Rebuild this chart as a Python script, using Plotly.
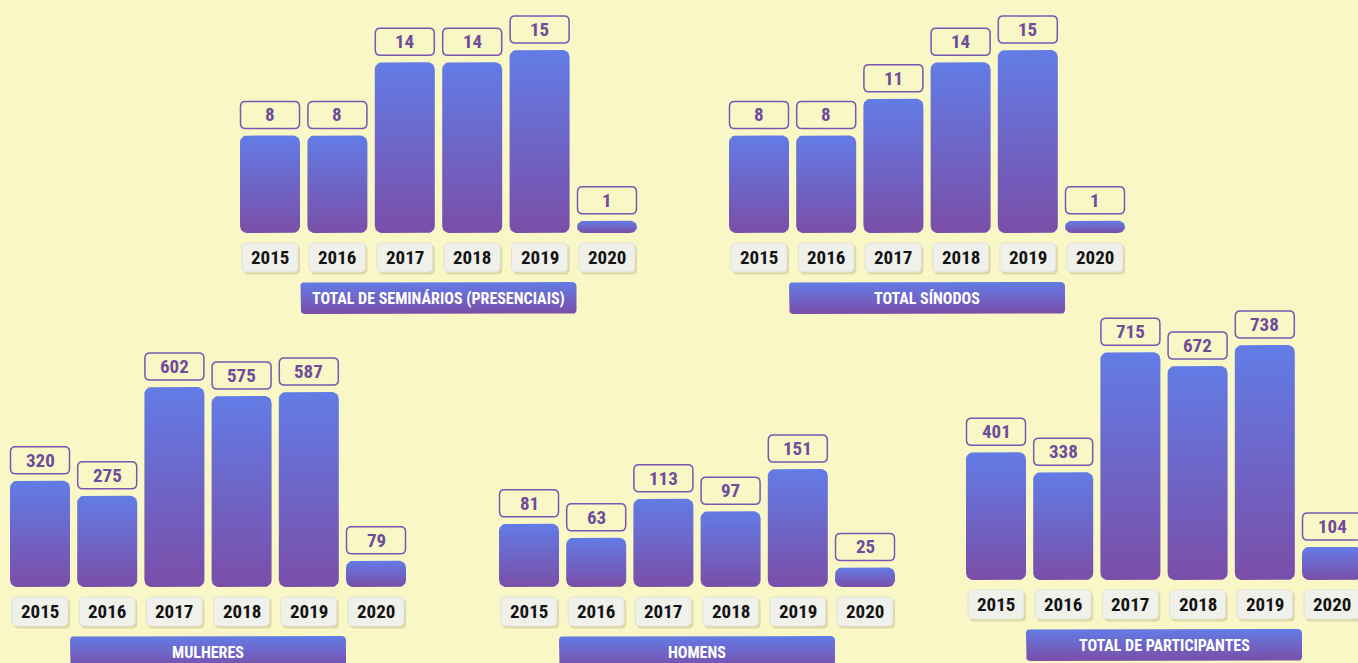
import numpy as np
import plotly.graph_objects as go

W, H = 1358, 663

# ---- data -------------------------------------------------------------
years = ["2015", "2016", "2017", "2018", "2019", "2020"]
seminarios = [8, 8, 14, 14, 15, 1]
sinodos = [8, 8, 11, 14, 15, 1]
mulheres = [320, 275, 602, 575, 587, 79]
homens = [81, 63, 113, 97, 151, 25]
participantes = [401, 338, 715, 672, 738, 104]

panel_titles = [
    "TOTAL DE SEMINÁRIOS (PRESENCIAIS)",
    "TOTAL SÍNODOS",
    "MULHERES",
    "HOMENS",
    "TOTAL DE PARTICIPANTES",
]
panel_values = [seminarios, sinodos, mulheres, homens, participantes]

# ---- layout of the five panels (pixels) --------------------------------
# c0: centre of first bar, pitch: bar spacing, zero: baseline,
# top: pixel height reached by the largest value, dom: vertical extent
panels = [
    dict(c0=270, pitch=67.4, zero=233, top=50, dom=(0, 322)),
    dict(c0=759, pitch=67.2, zero=233, top=50, dom=(0, 322)),
    dict(c0=40, pitch=67.2, zero=587, top=387, dom=(300, 663)),
    dict(c0=529, pitch=67.2, zero=587, top=469, dom=(300, 663)),
    dict(c0=996, pitch=67.2, zero=580, top=345, dom=(300, 663)),
]

BG = "#FAF7C6"
BLUE = "#627CE6"
PURPLE = "#7A4EA8"
BOX_LINE = "#7A55B2"
LABEL_TXT = "#6E4C9C"
FONT = "'Roboto Condensed', 'DejaVu Sans Condensed', 'Roboto', sans-serif"

BAR_HALF_PX = 30
BAR_R_PX = 7


def rounded_poly(xc, hw, y0, y1, rx, ry, n=7):
    """Rounded rectangle outline in data units."""
    ry = min(ry, (y1 - y0) / 2)
    t = np.linspace(0, np.pi / 2, n)
    xs, ys = [], []
    corners = [
        (xc + hw - rx, y1 - ry, 0),          # top right
        (xc - hw + rx, y1 - ry, np.pi / 2),  # top left
        (xc - hw + rx, y0 + ry, np.pi),      # bottom left
        (xc + hw - rx, y0 + ry, 1.5 * np.pi),  # bottom right
    ]
    for cx, cy, a0 in corners:
        a = a0 + t
        xs.extend(cx + rx * np.cos(a))
        ys.extend(cy + ry * np.sin(a))
    xs.append(xs[0])
    ys.append(ys[0])
    return xs, ys


def rounded_path(x0, x1, y0, y1, r):
    """Rounded rectangle SVG path (pixel offsets)."""
    return (
        f"M {x0 + r},{y0} L {x1 - r},{y0} Q {x1},{y0} {x1},{y0 + r} "
        f"L {x1},{y1 - r} Q {x1},{y1} {x1 - r},{y1} "
        f"L {x0 + r},{y1} Q {x0},{y1} {x0},{y1 - r} "
        f"L {x0},{y0 + r} Q {x0},{y0} {x0 + r},{y0} Z"
    )


gradient = dict(type="vertical", colorscale=[[0, PURPLE], [1, BLUE]])

fig = go.Figure()
shapes, annotations = [], []
layout_axes = {}

for k, (p, vals, title) in enumerate(zip(panels, panel_values, panel_titles)):
    n = "" if k == 0 else str(k + 1)
    xref, yref = f"x{n}", f"y{n}"

    vmax = max(vals)
    s = (p["zero"] - p["top"]) / vmax          # pixels per unit
    d_top, d_bot = p["dom"]
    yr = [-(d_bot - p["zero"]) / s, (p["zero"] - d_top) / s]

    left_px = p["c0"] - p["pitch"] / 2
    right_px = min(p["c0"] + 5.5 * p["pitch"], W)
    xr = [-0.5, (right_px - p["c0"]) / p["pitch"]]

    layout_axes[f"xaxis{n}"] = dict(
        domain=[max(left_px, 0) / W, right_px / W], range=xr,
        visible=False, fixedrange=True, anchor=yref,
    )
    layout_axes[f"yaxis{n}"] = dict(
        domain=[(H - d_bot) / H, (H - d_top) / H], range=yr,
        visible=False, fixedrange=True, anchor=xref,
    )

    hw = BAR_HALF_PX / p["pitch"]
    rx = BAR_R_PX / p["pitch"]
    ry = BAR_R_PX / s

    for i, (yr_lbl, v) in enumerate(zip(years, vals)):
        # bar with vertical gradient
        bx, by = rounded_poly(i, hw, 0, v, rx, ry)
        fig.add_trace(go.Scatter(
            x=bx, y=by, mode="lines", fill="toself",
            line=dict(width=0, color="rgba(0,0,0,0)"),
            fillgradient=gradient, hoverinfo="skip", showlegend=False,
            xaxis=xref, yaxis=yref,
        ))

        # value box above the bar
        shapes.append(dict(
            type="path", xref=xref, yref=yref,
            xsizemode="pixel", ysizemode="pixel", xanchor=i, yanchor=v,
            path=rounded_path(-29.5, 29.5, 7, 34, 5),
            line=dict(color=BOX_LINE, width=1.5), fillcolor="rgba(0,0,0,0)",
        ))
        annotations.append(dict(
            x=i, y=v, xref=xref, yref=yref, yshift=20.5, text=str(v),
            showarrow=False, yanchor="middle",
            font=dict(family=FONT, size=19, color=LABEL_TXT, weight=700),
        ))

        # year tag below the baseline
        shapes.append(dict(
            type="path", xref=xref, yref=yref,
            xsizemode="pixel", ysizemode="pixel", xanchor=i, yanchor=0,
            path=rounded_path(-26.5, 30, -41.5, -11.5, 5),
            line=dict(width=0), fillcolor="rgba(170,160,100,0.35)",
        ))
        shapes.append(dict(
            type="path", xref=xref, yref=yref,
            xsizemode="pixel", ysizemode="pixel", xanchor=i, yanchor=0,
            path=rounded_path(-28, 28, -39, -10, 5),
            line=dict(color="#E2E1D8", width=1), fillcolor="#F1F1EC",
        ))
        annotations.append(dict(
            x=i, y=0, xref=xref, yref=yref, yshift=-24.5, text=yr_lbl,
            showarrow=False, yanchor="middle",
            font=dict(family=FONT, size=19, color="#141414", weight=700),
        ))

    # panel title banner
    cx = 2.5
    thw = 138 / p["pitch"]
    tx, ty = rounded_poly(cx, thw, -81 / s, -49 / s,
                          4 / p["pitch"], 4 / s)
    fig.add_trace(go.Scatter(
        x=tx, y=ty, mode="lines", fill="toself",
        line=dict(width=0, color="rgba(0,0,0,0)"),
        fillgradient=gradient, hoverinfo="skip", showlegend=False,
        xaxis=xref, yaxis=yref,
    ))
    annotations.append(dict(
        x=cx, y=-65 / s, xref=xref, yref=yref, text=title,
        showarrow=False, yanchor="middle",
        font=dict(family=FONT, size=16, color="white", weight=700),
    ))

fig.update_layout(
    width=W, height=H, autosize=False,
    margin=dict(l=0, r=0, t=0, b=0),
    paper_bgcolor=BG, plot_bgcolor="rgba(0,0,0,0)",
    shapes=shapes, annotations=annotations,
    **layout_axes,
)

fig.write_html("out.html")
